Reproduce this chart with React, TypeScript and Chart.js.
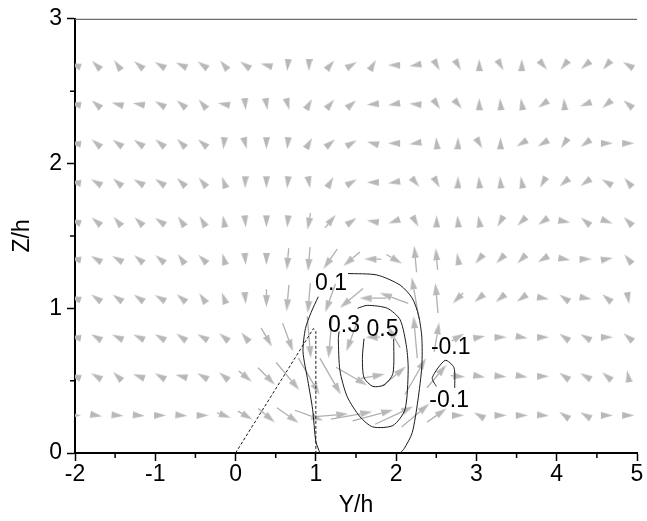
import { useEffect, useRef } from 'react';
import { Chart, registerables } from 'chart.js';

Chart.register(...registerables);

// Grid of the vector field (Y/h columns, Z/h rows)
const GRID_Y = [-2.0, -1.735, -1.47, -1.205, -0.94, -0.675, -0.41, -0.145, 0.12, 0.385, 0.65, 0.915, 1.18, 1.445, 1.71, 1.975, 2.24, 2.505, 2.77, 3.035, 3.3, 3.565, 3.83, 4.095, 4.36, 4.625, 4.89];
const GRID_Z = [0.26, 0.53, 0.8, 1.07, 1.34, 1.6, 1.87, 2.14, 2.41, 2.68];

// In-plane velocity direction (degrees, counter-clockwise from +Y) per row
const ANG_R0 = [0, 350, 355, 355, 0, 355, 0, 340, 330, 320, 325, 340, 5, 10, 15, 25, 40, 35, 0, 150, 0, 0, 355, 145, 150, 0, 0];
const ANG_R1 = [160, 150, 135, 160, 150, 165, 150, 140, 320, 315, 310, 300, 300, 330, 10, 40, 60, 50, 355, 350, 355, 350, 0, 145, 150, 140, 100];
const ANG_R2 = [170, 150, 155, 155, 150, 145, 150, 140, 130, 300, 290, 275, 265, 250, 180, 120, 95, 80, 30, 10, 0, 350, 0, 145, 150, 0, 140];
const ANG_R3 = [160, 145, 145, 145, 150, 140, 125, 110, 275, 270, 265, 265, 250, 220, 180, 160, 100, 95, 225, 220, 220, 215, 350, 145, 350, 140, 280];
const ANG_R4 = [170, 150, 150, 140, 140, 125, 135, 105, 275, 270, 265, 265, 235, 220, 180, 330, 95, 95, 100, 230, 225, 225, 210, 350, 0, 10, 130];
const ANG_R5 = [160, 140, 130, 135, 145, 125, 120, 100, 275, 270, 265, 260, 50, 35, 170, 200, 300, 90, 95, 100, 240, 225, 215, 350, 140, 340, 135];
const ANG_R6 = [170, 150, 140, 150, 145, 135, 130, 110, 270, 270, 265, 280, 60, 30, 180, 190, 310, 300, 90, 95, 95, 100, 240, 220, 215, 150, 130];
const ANG_R7 = [170, 140, 145, 145, 140, 135, 140, 265, 285, 270, 265, 60, 40, 30, 165, 180, 190, 95, 90, 300, 90, 210, 210, 235, 215, 0, 0];
const ANG_R8 = [170, 140, 165, 170, 150, 140, 130, 170, 275, 280, 285, 60, 50, 40, 185, 190, 175, 305, 310, 90, 95, 100, 215, 95, 200, 220, 140];
const ANG_R9 = [160, 135, 125, 140, 150, 155, 145, 130, 145, 165, 265, 270, 50, 30, 60, 180, 190, 300, 300, 90, 300, 90, 310, 230, 220, 230, 150];

// In-plane speed (normalised) per row
const SPD_R0 = [0.1, 0.1, 0.1, 0.1, 0.1, 0.1, 0.1, 0.12, 0.14, 0.18, 0.22, 0.25, 0.3, 0.35, 0.35, 0.35, 0.3, 0.2, 0.1, 0.1, 0.1, 0.1, 0.1, 0.1, 0.1, 0.1, 0.1];
const SPD_R1 = [0.1, 0.1, 0.1, 0.1, 0.1, 0.1, 0.1, 0.1, 0.14, 0.2, 0.3, 0.35, 0.35, 0.3, 0.2, 0.25, 0.35, 0.25, 0.12, 0.1, 0.1, 0.1, 0.1, 0.1, 0.1, 0.1, 0.1];
const SPD_R2 = [0.1, 0.1, 0.1, 0.1, 0.1, 0.1, 0.1, 0.1, 0.1, 0.18, 0.25, 0.35, 0.35, 0.25, 0.12, 0.2, 0.35, 0.25, 0.12, 0.1, 0.1, 0.1, 0.1, 0.1, 0.1, 0.1, 0.1];
const SPD_R3 = [0.1, 0.1, 0.1, 0.1, 0.1, 0.1, 0.1, 0.1, 0.1, 0.15, 0.22, 0.25, 0.25, 0.25, 0.22, 0.25, 0.35, 0.25, 0.12, 0.1, 0.1, 0.1, 0.1, 0.1, 0.1, 0.1, 0.1];
const SPD_R4 = [0.1, 0.1, 0.1, 0.1, 0.1, 0.1, 0.1, 0.1, 0.1, 0.1, 0.18, 0.2, 0.2, 0.18, 0.14, 0.15, 0.22, 0.18, 0.1, 0.1, 0.1, 0.1, 0.1, 0.1, 0.1, 0.1, 0.1];
const SPD_R5 = [0.1, 0.1, 0.1, 0.1, 0.1, 0.1, 0.1, 0.1, 0.1, 0.1, 0.1, 0.14, 0.14, 0.1, 0.1, 0.1, 0.1, 0.1, 0.1, 0.1, 0.1, 0.1, 0.1, 0.1, 0.1, 0.1, 0.1];
const SPD_R6 = [0.1, 0.1, 0.1, 0.1, 0.1, 0.1, 0.1, 0.1, 0.1, 0.1, 0.1, 0.1, 0.1, 0.1, 0.1, 0.1, 0.1, 0.1, 0.1, 0.1, 0.1, 0.1, 0.1, 0.1, 0.1, 0.1, 0.1];
const SPD_R7 = [0.1, 0.1, 0.1, 0.1, 0.1, 0.1, 0.1, 0.1, 0.1, 0.1, 0.1, 0.1, 0.1, 0.1, 0.1, 0.1, 0.1, 0.1, 0.1, 0.1, 0.1, 0.1, 0.1, 0.1, 0.1, 0.1, 0.1];
const SPD_R8 = [0.1, 0.1, 0.1, 0.1, 0.1, 0.1, 0.1, 0.1, 0.1, 0.1, 0.1, 0.1, 0.1, 0.1, 0.1, 0.1, 0.1, 0.1, 0.1, 0.1, 0.1, 0.1, 0.1, 0.1, 0.1, 0.1, 0.1];
const SPD_R9 = [0.1, 0.1, 0.1, 0.1, 0.1, 0.1, 0.1, 0.1, 0.1, 0.1, 0.1, 0.1, 0.1, 0.1, 0.1, 0.1, 0.1, 0.1, 0.1, 0.1, 0.1, 0.1, 0.1, 0.1, 0.1, 0.1, 0.1];

const ANGLES = [ANG_R0, ANG_R1, ANG_R2, ANG_R3, ANG_R4, ANG_R5, ANG_R6, ANG_R7, ANG_R8, ANG_R9];
const SPEEDS = [SPD_R0, SPD_R1, SPD_R2, SPD_R3, SPD_R4, SPD_R5, SPD_R6, SPD_R7, SPD_R8, SPD_R9];

// Streamwise-velocity contours [Y/h, Z/h]; lines are broken where labels sit
const C_01_LEFT = [[1.05, 0], [1.0, 0.08], [0.96, 0.3], [0.9, 0.5], [0.84, 0.7], [0.87, 0.86], [0.94, 0.97], [1.03, 1.08]];
const C_01_RIGHT = [[1.4, 1.24], [1.76, 1.23], [2.05, 1.16], [2.2, 1.07], [2.28, 0.95], [2.32, 0.8], [2.32, 0.6], [2.27, 0.36], [2.2, 0.14], [2.1, 0.03], [2.05, 0]];
const C_03 = [[1.52, 1.0], [1.64, 1.02], [1.89, 1.0], [2.05, 0.92], [2.13, 0.73], [2.15, 0.57], [2.11, 0.3], [1.96, 0.19], [1.71, 0.18], [1.55, 0.25], [1.39, 0.39], [1.3, 0.57], [1.28, 0.79], [1.29, 0.84]];
const C_05 = [[1.97, 0.79], [1.96, 0.55], [1.85, 0.47], [1.71, 0.46], [1.6, 0.52], [1.58, 0.66], [1.6, 0.79]];
const C_M01 = [[2.5, 0.46], [2.45, 0.52], [2.61, 0.64], [2.72, 0.59], [2.73, 0.45]];
const SEPARATION = [[0, 0], [0.97, 0.86], [1.0, 0.84], [1.0, 0]];

const LABEL_TEXT = ['0.1', '0.3', '0.5', '-0.1', '-0.1'];
const LABEL_Y = [1.19, 1.35, 1.83, 2.68, 2.66];
const LABEL_Z = [1.17, 0.88, 0.85, 0.73, 0.36];

const MINOR_Y = [-1.5, -0.5, 0.5, 1.5, 2.5, 3.5, 4.5];
const MINOR_Z = [0.5, 1.5, 2.5];

const FONT = '"Liberation Sans", Arial, sans-serif';
const HEAD_LEN = 12;
const HEAD_W = 7;
const PX_PER_SPEED = 120;

const toPts = (arr: number[][]) => arr.map(([x, y]) => ({ x, y }));

const contourLine = (data: number[][], dash: number[] = []) => ({
  type: 'scatter' as const,
  data: toPts(data),
  showLine: true,
  borderColor: '#1a1a1a',
  borderWidth: 1,
  borderDash: dash,
  pointRadius: 0,
  tension: 0.25,
  order: 1,
});

const framePlugin = {
  id: 'frameAndLabels',
  afterDraw(chart: any) {
    const { ctx, chartArea: a, scales } = chart;
    const xs = scales.x;
    const ys = scales.y;
    ctx.save();
    // top frame line
    ctx.strokeStyle = '#6e6e6e';
    ctx.lineWidth = 1.2;
    ctx.beginPath();
    ctx.moveTo(a.left, a.top + 0.5);
    ctx.lineTo(a.right, a.top + 0.5);
    ctx.stroke();
    // minor ticks
    ctx.strokeStyle = '#000';
    ctx.lineWidth = 1.5;
    ctx.beginPath();
    MINOR_Y.forEach((v) => {
      const p = xs.getPixelForValue(v);
      ctx.moveTo(p, a.bottom);
      ctx.lineTo(p, a.bottom + 5);
    });
    MINOR_Z.forEach((v) => {
      const p = ys.getPixelForValue(v);
      ctx.moveTo(a.left, p);
      ctx.lineTo(a.left - 5, p);
    });
    ctx.stroke();
    // contour labels
    ctx.fillStyle = '#000';
    ctx.font = `23px ${FONT}`;
    ctx.textAlign = 'center';
    ctx.textBaseline = 'middle';
    LABEL_TEXT.forEach((t, i) => {
      ctx.fillText(t, xs.getPixelForValue(LABEL_Y[i]), ys.getPixelForValue(LABEL_Z[i]));
    });
    ctx.restore();
  },
};

export default function App() {
  const ref = useRef<HTMLCanvasElement>(null);

  useEffect(() => {
    if (!ref.current) return;

    const head = document.createElement('canvas');
    head.width = HEAD_W;
    head.height = HEAD_LEN * 2;
    const hctx = head.getContext('2d')!;
    hctx.fillStyle = '#b8b8b8';
    hctx.beginPath();
    hctx.moveTo(HEAD_W / 2, 0);
    hctx.lineTo(HEAD_W, HEAD_LEN);
    hctx.lineTo(0, HEAD_LEN);
    hctx.closePath();
    hctx.fill();

    const shaftData: any[] = [];
    const headData: any[] = [];
    const headRot: number[] = [];

    const chart = new Chart(ref.current, {
      type: 'scatter',
      data: {
        datasets: [
          contourLine(C_01_LEFT),
          contourLine(C_01_RIGHT),
          contourLine(C_03),
          contourLine(C_05),
          contourLine(C_M01),
          { ...contourLine(SEPARATION, [3, 2]), tension: 0 },
          {
            type: 'scatter',
            data: shaftData,
            showLine: true,
            borderColor: '#b0b0b0',
            borderWidth: 1.3,
            pointRadius: 0,
            clip: 0,
            order: 3,
          },
          {
            type: 'scatter',
            data: headData,
            pointStyle: head as any,
            pointRadius: 5,
            pointRotation: headRot,
            clip: 0,
            order: 2,
          },
        ] as any,
      },
      options: {
        responsive: false,
        animation: false,
        events: [],
        layout: { padding: { top: 18, right: 10, left: 0, bottom: 0 } },
        plugins: { legend: { display: false }, tooltip: { enabled: false } },
        scales: {
          x: {
            type: 'linear',
            min: -2,
            max: 5,
            afterFit: (s: any) => {
              s.height = 68;
            },
            border: { color: '#000', width: 2 },
            grid: { drawOnChartArea: false, tickLength: 8, tickWidth: 1.5, tickColor: '#000' },
            ticks: { stepSize: 1, color: '#000', font: { size: 23, family: FONT }, padding: 0, maxRotation: 0, autoSkip: false },
            title: { display: true, text: 'Y/h', color: '#000', font: { size: 23, family: FONT }, padding: { top: 0, bottom: 2 } },
          },
          y: {
            type: 'linear',
            min: 0,
            max: 3,
            afterFit: (s: any) => {
              s.width = 75;
            },
            border: { color: '#000', width: 2 },
            grid: { drawOnChartArea: false, tickLength: 8, tickWidth: 1.5, tickColor: '#000' },
            ticks: { stepSize: 1, color: '#000', font: { size: 23, family: FONT }, padding: 5 },
            title: { display: true, text: 'Z/h', color: '#000', font: { size: 23, family: FONT }, padding: { top: 9, bottom: 0 } },
          },
        },
      } as any,
      plugins: [framePlugin],
    });

    // Build the arrows in pixel space so their heads keep their shape
    const xs: any = chart.scales.x;
    const ys: any = chart.scales.y;
    const pxX = xs.getPixelForValue(1) - xs.getPixelForValue(0);
    const pxZ = ys.getPixelForValue(0) - ys.getPixelForValue(1);
    GRID_Z.forEach((z, j) => {
      GRID_Y.forEach((y, k) => {
        const th = (ANGLES[j][k] * Math.PI) / 180;
        const total = Math.max(HEAD_LEN, SPEEDS[j][k] * PX_PER_SPEED);
        const ux = Math.cos(th) / pxX;
        const uz = Math.sin(th) / pxZ;
        const tail = { x: y - (total / 2) * ux, y: z - (total / 2) * uz };
        const base = { x: y + (total / 2 - HEAD_LEN) * ux, y: z + (total / 2 - HEAD_LEN) * uz };
        if (total - HEAD_LEN > 0.5) {
          shaftData.push(tail, base, { x: base.x, y: null });
        }
        headData.push(base);
        headRot.push(90 - ANGLES[j][k]);
      });
    });
    chart.update();

    return () => chart.destroy();
  }, []);

  return (
    <div style={{ position: 'fixed', left: 0, top: 0, width: 647, height: 521, background: '#fff' }}>
      <canvas ref={ref} width={647} height={521} style={{ display: 'block' }} />
    </div>
  );
}
